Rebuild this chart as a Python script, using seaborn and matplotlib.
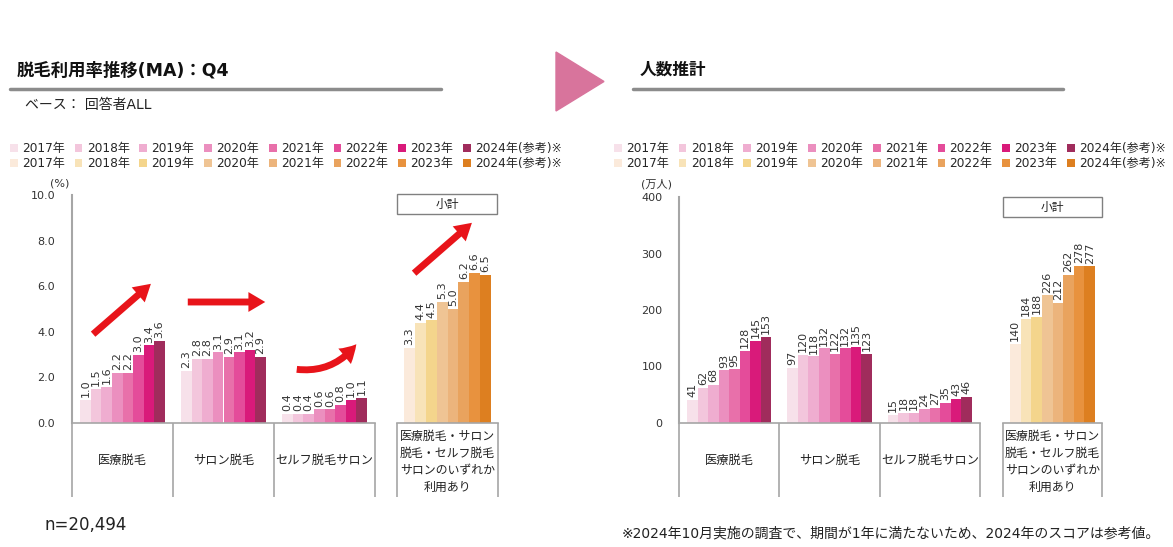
import numpy as np
import pandas as pd
import matplotlib
matplotlib.use("Agg")
import matplotlib.pyplot as plt
import seaborn as sns
from matplotlib.patches import Patch, Rectangle, Polygon, FancyArrowPatch
from matplotlib.lines import Line2D

# ---- data ----
years = ["2017年", "2018年", "2019年", "2020年", "2021年", "2022年", "2023年", "2024年(参考)※"]
categories = ["医療脱毛", "サロン脱毛", "セルフ脱毛サロン"]
subtotal_label = "医療脱毛・サロン\n脱毛・セルフ脱毛\nサロンのいずれか\n利用あり"

rate_medical = [1.0, 1.5, 1.6, 2.2, 2.2, 3.0, 3.4, 3.6]
rate_salon = [2.3, 2.8, 2.8, 3.1, 2.9, 3.1, 3.2, 2.9]
rate_self = [0.4, 0.4, 0.4, 0.6, 0.6, 0.8, 1.0, 1.1]
rate_any = [3.3, 4.4, 4.5, 5.3, 5.0, 6.2, 6.6, 6.5]

people_medical = [41, 62, 68, 93, 95, 128, 145, 153]
people_salon = [97, 120, 118, 132, 122, 132, 135, 123]
people_self = [15, 18, 18, 24, 27, 35, 43, 46]
people_any = [140, 184, 188, 226, 212, 262, 278, 277]

pink = ["#f7e1ea", "#f3c6dc", "#efadd0", "#eb8fbf", "#e870aa", "#e44c9a", "#d91a7a", "#a02c5c"]
orange = ["#fbeadb", "#f8e3b8", "#f4d58c", "#efc494", "#ecb47c", "#e9a35e", "#e8923e", "#dd7f20"]

sns.set_theme(style="white")
plt.rcParams["font.family"] = ["DejaVu Sans", "Noto Sans CJK JP"]

W, H = 1173, 547
GRAY = "#a6a6a6"
TXT = "#333333"


def fx(x):
    return x / W


def fy(y):
    return 1 - y / H


fig = plt.figure(figsize=(W / 100, H / 100), dpi=100)


def add_ax(l, t, r, b):
    return fig.add_axes([fx(l), fy(b), (r - l) / W, (b - t) / H])


def style_ax(ax, ymax, ticks, fmt, show_y):
    ax.set_ylim(0, ymax)
    ax.set_xticks([])
    ax.set_xlabel("")
    ax.set_ylabel("")
    for s in ["top", "right"]:
        ax.spines[s].set_visible(False)
    ax.spines["bottom"].set_color(GRAY)
    ax.spines["bottom"].set_linewidth(1.2)
    if show_y:
        ax.set_yticks(ticks)
        ax.set_yticklabels([fmt.format(t) for t in ticks])
        ax.spines["left"].set_color(GRAY)
        ax.spines["left"].set_linewidth(1.5)
        ax.tick_params(axis="y", length=4, width=1, color=GRAY, labelsize=8, labelcolor=TXT, pad=8)
    else:
        ax.set_yticks([])
        ax.spines["left"].set_visible(False)


def draw_main(ax, series, fmt, ymax, ticks, tick_fmt, box_px):
    df = pd.DataFrame({
        "category": np.repeat(categories, len(years)),
        "year": years * len(categories),
        "value": np.concatenate(series),
    })
    sns.barplot(data=df, x="category", y="value", hue="year", hue_order=years,
                palette=pink, width=0.84, gap=0, saturation=1, errorbar=None,
                legend=False, linewidth=0, ax=ax)
    for c in ax.containers:
        ax.bar_label(c, fmt=fmt, rotation=90, padding=2, fontsize=8, color=TXT)
    ax.set_xlim(-0.5, len(categories) - 0.5)
    style_ax(ax, ymax, ticks, tick_fmt, True)
    h = ax.bbox.height
    bounds = np.arange(len(categories) + 1) - 0.5
    ax.vlines(bounds, -box_px / h, 0, transform=ax.get_xaxis_transform(),
              colors=GRAY, lw=1.2, clip_on=False)
    for i, cat in enumerate(categories):
        ax.text(i, -37 / h, cat, transform=ax.get_xaxis_transform(),
                ha="center", va="center", fontsize=8.8, color="#222222")


def draw_sub(ax, values, fmt, ymax, box_px):
    df = pd.DataFrame({"category": ["any"] * len(years), "year": years, "value": values})
    sns.barplot(data=df, x="category", y="value", hue="year", hue_order=years,
                palette=orange, width=0.86, gap=0, saturation=1, errorbar=None,
                legend=False, linewidth=0, ax=ax)
    for c in ax.containers:
        ax.bar_label(c, fmt=fmt, rotation=90, padding=2, fontsize=8, color=TXT)
    ax.set_xlim(-0.5, 0.5)
    style_ax(ax, ymax, [], "", False)
    h = ax.bbox.height
    ax.vlines([-0.5, 0.5], -box_px / h, 0, transform=ax.get_xaxis_transform(),
              colors=GRAY, lw=1.2, clip_on=False)
    ax.text(0, -39 / h, subtotal_label, transform=ax.get_xaxis_transform(),
            ha="center", va="center", fontsize=8.6, linespacing=1.4, color="#222222")


# left: usage rate
ax1 = add_ax(72, 195, 375, 423)
draw_main(ax1, [rate_medical, rate_salon, rate_self], "%.1f", 10,
          [0, 2, 4, 6, 8, 10], "{:.1f}", 74)
ax2 = add_ax(397, 195, 498, 423)
draw_sub(ax2, rate_any, "%.1f", 10, 74)

# right: estimated people
ax3 = add_ax(679, 197, 980, 423)
draw_main(ax3, [people_medical, people_salon, people_self], "%d", 400,
          [0, 100, 200, 300, 400], "{:d}", 74)
ax4 = add_ax(1003, 197, 1102, 423)
draw_sub(ax4, people_any, "%d", 400, 74)

# unit labels
fig.text(fx(60), fy(183), "(%)", fontsize=8, color=TXT, ha="center", va="center")
fig.text(fx(656), fy(184), "(万人)", fontsize=8, color=TXT, ha="center", va="center")

# subtotal boxes
for l, t, r, b in [(397, 194, 497, 214), (1003, 197, 1102, 217)]:
    fig.add_artist(Rectangle((fx(l), fy(b)), (r - l) / W, (b - t) / H,
                             transform=fig.transFigure, fill=False,
                             edgecolor="#808080", lw=1))
    fig.text(fx((l + r) / 2), fy((t + b) / 2), "小計", fontsize=8.5,
             ha="center", va="center", color="#222222")

# legends
for x0, y0 in [(10, 142), (614, 142)]:
    for row, pal in enumerate([pink, orange]):
        handles = [Patch(facecolor=c, edgecolor="none") for c in pal]
        fig.legend(handles, years, loc="upper left",
                   bbox_to_anchor=(fx(x0), fy(y0 + row * 15)), ncol=8,
                   frameon=False, fontsize=8.7, handlelength=0.65, handleheight=0.65,
                   handletextpad=0.35, columnspacing=0.8, borderpad=0,
                   borderaxespad=0, labelspacing=0)

# headings
fig.text(fx(17), fy(70), "脱毛利用率推移(MA)：Q4", fontsize=12.5, fontweight="bold",
         ha="left", va="center", color="#111111")
fig.add_artist(Line2D([fx(10), fx(441)], [fy(89), fy(89)], color="#8c8c8c", lw=2.5))
fig.text(fx(25), fy(105), "ベース： 回答者ALL", fontsize=10, ha="left", va="center",
         color="#222222")
fig.text(fx(640), fy(70), "人数推計", fontsize=12, fontweight="bold",
         ha="left", va="center", color="#111111")
fig.add_artist(Line2D([fx(633), fx(1063)], [fy(89), fy(89)], color="#8c8c8c", lw=2.5))
fig.add_artist(Polygon([(fx(556), fy(52)), (fx(604), fy(81.5)), (fx(556), fy(111))],
                       closed=True, transform=fig.transFigure, color="#d8749c"))

# trend arrows
arrows = [((91, 336), (153, 282), "arc3,rad=0"),
          ((185, 302), (268, 302), "arc3,rad=0"),
          ((294, 369), (358, 342), "arc3,rad=0.3"),
          ((412, 275), (474, 221), "arc3,rad=0")]
for (x0, y0), (x1, y1), cs in arrows:
    fig.add_artist(FancyArrowPatch((fx(x0), fy(y0)), (fx(x1), fy(y1)),
                                   transform=fig.transFigure, connectionstyle=cs,
                                   arrowstyle="simple,head_width=1.3,head_length=1.1,tail_width=0.45",
                                   mutation_scale=11, color="#e8141a", lw=0))

# footers
fig.text(fx(45), fy(525), "n=20,494", fontsize=12, ha="left", va="center", color="#222222")
fig.text(fx(1160), fy(533), "※2024年10月実施の調査で、期間が1年に満たないため、2024年のスコアは参考値。",
         fontsize=10, ha="right", va="center", color="#222222")

fig.savefig("out.png", dpi=100)
